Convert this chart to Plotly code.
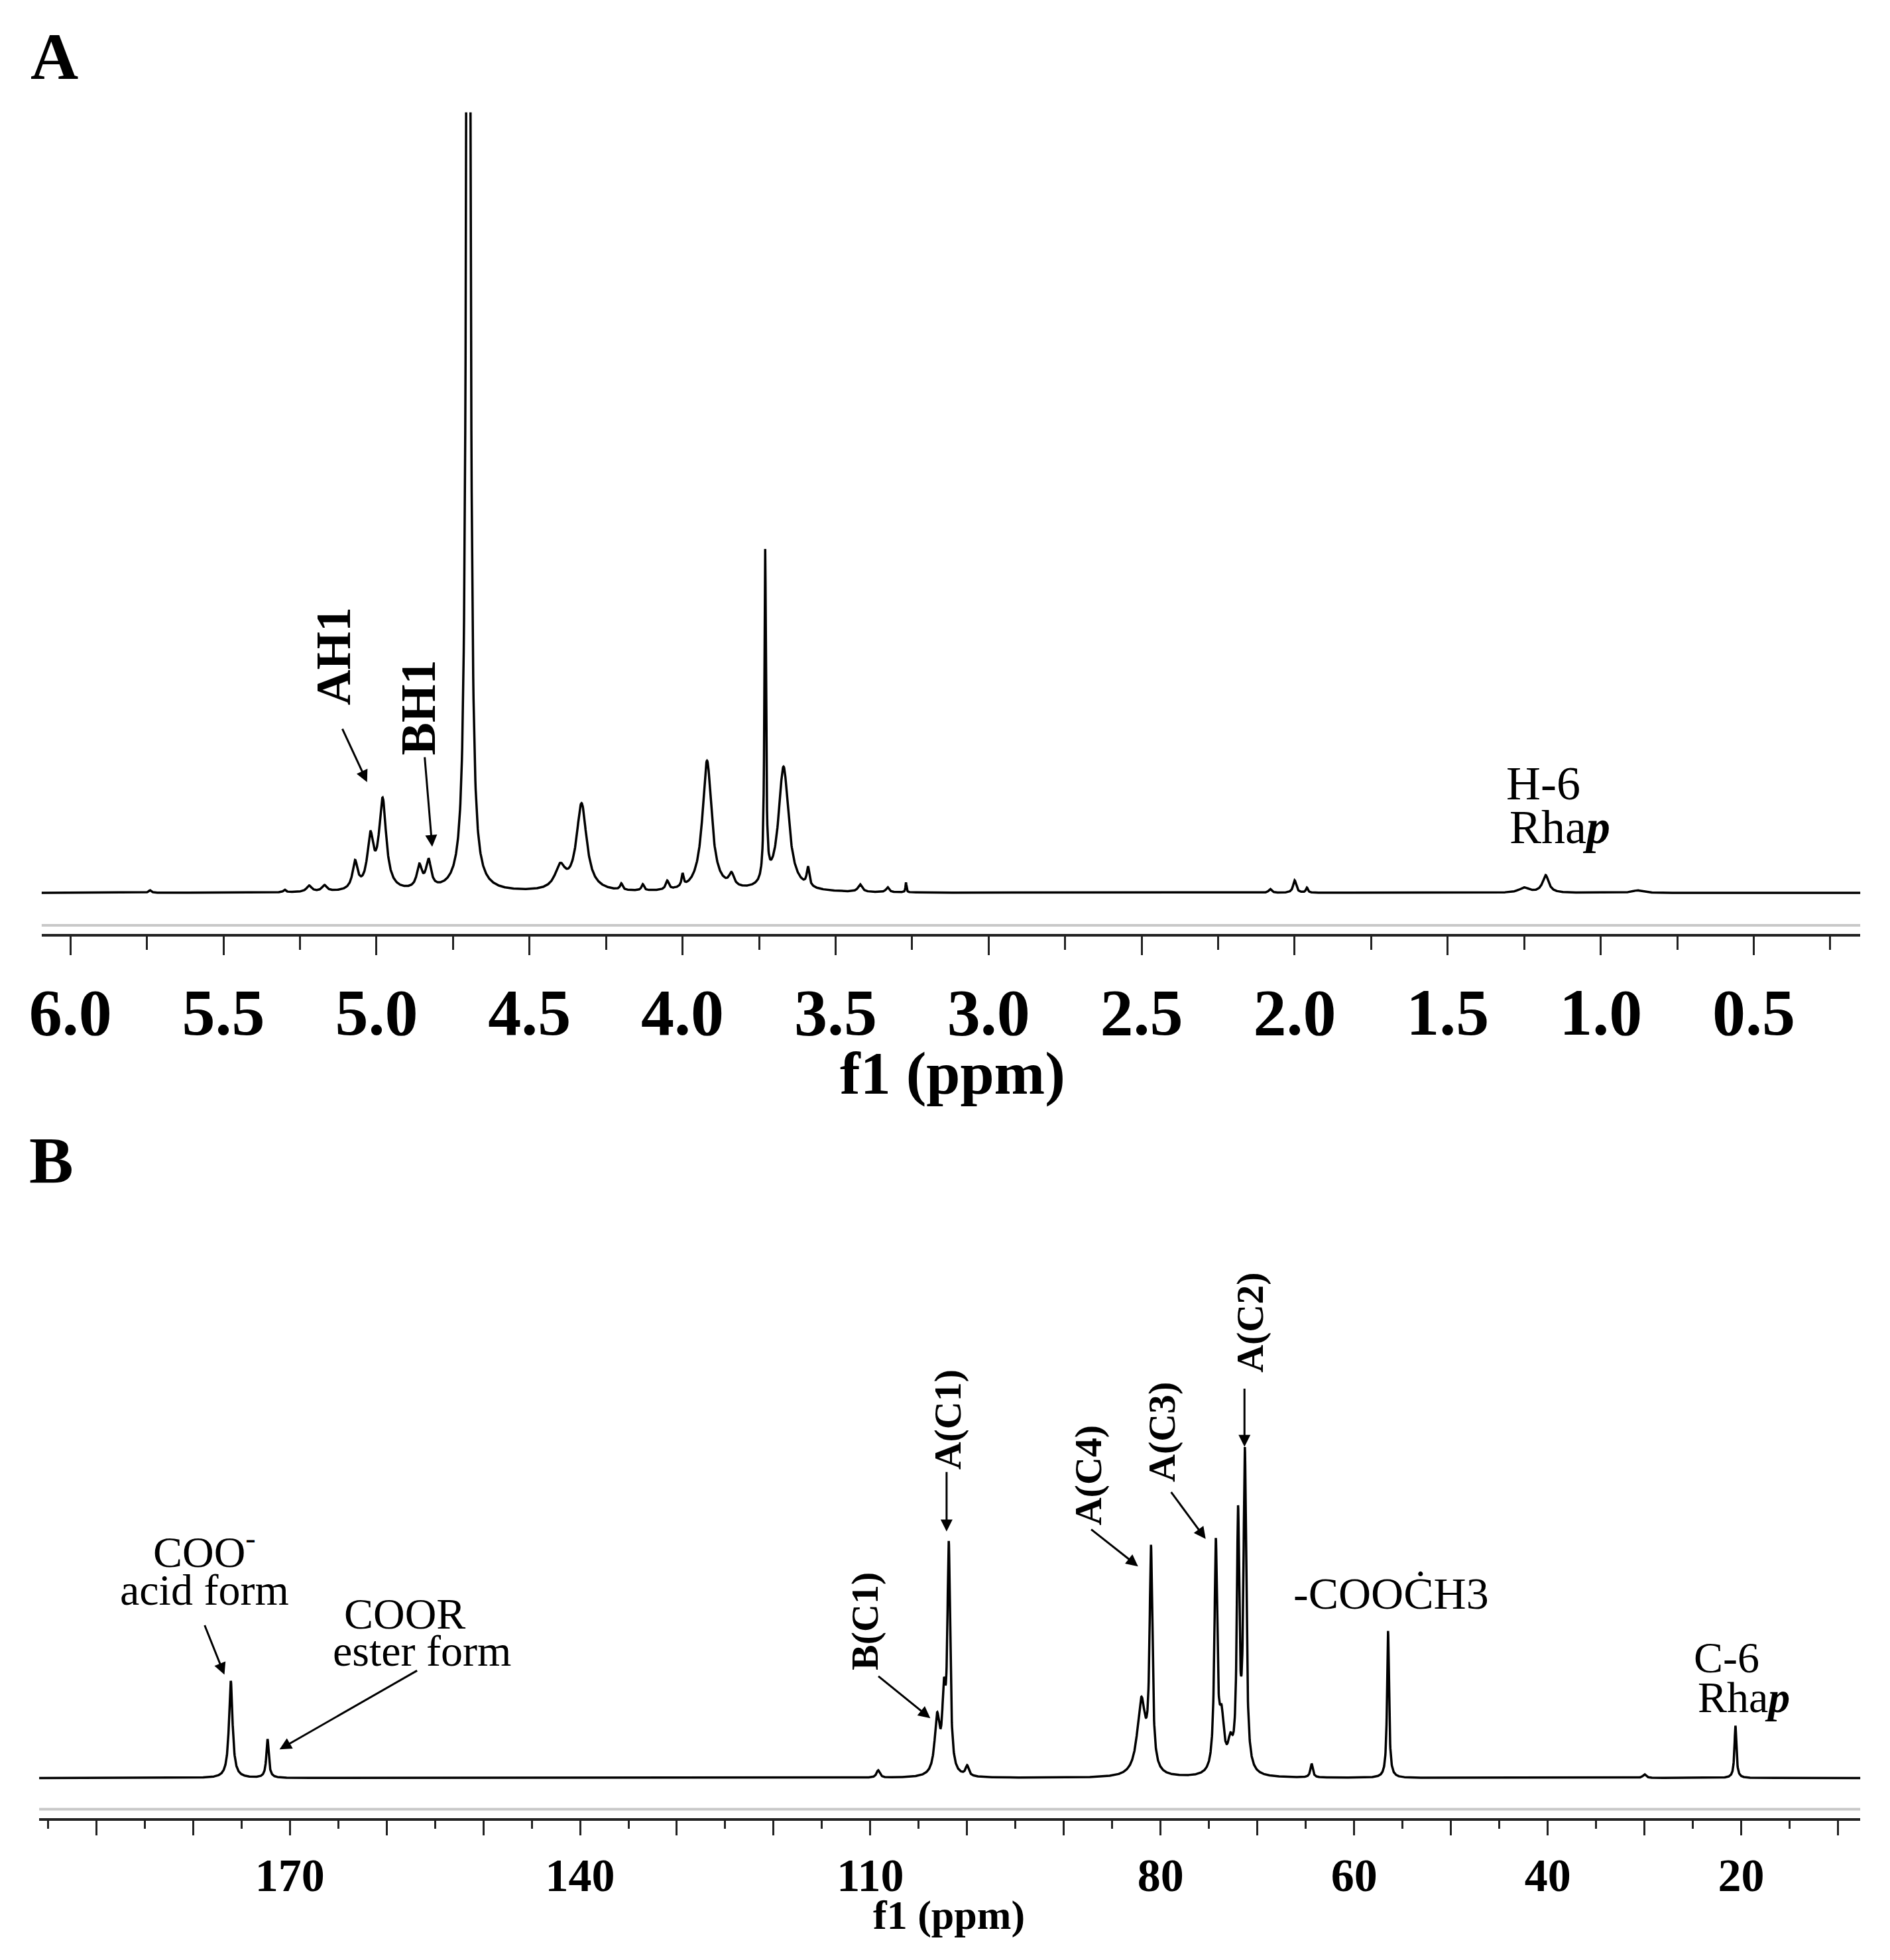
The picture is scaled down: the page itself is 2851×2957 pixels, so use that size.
import numpy as np
import plotly.graph_objects as go

# ---- data ----
# Panel A: 1H NMR peaks (ppm, height in arbitrary units, half width ppm)
h_pos = [5.74, 5.30, 5.22, 5.17, 5.07, 5.02, 4.98, 4.86, 4.83, 4.70, 4.40, 4.33, 4.20, 4.13, 4.05, 4.00, 3.92, 3.84, 3.73, 3.67, 3.59, 3.42, 3.33, 3.27, 2.08, 2.00, 1.96, 1.25, 1.18, 0.88]
h_hgt = [2, 2, 5, 5, 22, 40, 72, 18, 22, 1400, 18, 70, 5, 5, 7, 10, 105, 10, 265, 100, 15, 6, 4, 8, 3, 10, 4, 4, 14, 2]
h_wid = [0.005, 0.005, 0.01, 0.01, 0.01, 0.012, 0.014, 0.01, 0.01, 0.006, 0.02, 0.02, 0.005, 0.005, 0.006, 0.004, 0.018, 0.01, 0.003, 0.02, 0.005, 0.008, 0.006, 0.002, 0.006, 0.006, 0.004, 0.02, 0.012, 0.02]

# Panel B: 13C NMR peaks
c_pos = [176.1, 172.3, 109.2, 103.1, 102.4, 101.9, 100.0, 82.0, 81.0, 74.3, 73.7, 72.8, 72.0, 71.3, 64.4, 56.5, 30.0, 20.6]
c_hgt = [78, 31, 6, 45, 55, 180, 8, 60, 175, 182, 40, 20, 200, 255, 11, 118, 3, 42]
c_wid = [0.22, 0.15, 0.2, 0.3, 0.2, 0.17, 0.2, 0.5, 0.17, 0.17, 0.3, 0.3, 0.15, 0.17, 0.15, 0.12, 0.2, 0.12]

tickA_vals = [6.0, 5.5, 5.0, 4.5, 4.0, 3.5, 3.0, 2.5, 2.0, 1.5, 1.0, 0.5]
tickA_text = ["6.0", "5.5", "5.0", "4.5", "4.0", "3.5", "3.0", "2.5", "2.0", "1.5", "1.0", "0.5"]
tickB_vals = [190, 180, 170, 160, 150, 140, 130, 120, 110, 100, 90, 80, 70, 60, 50, 40, 30, 20, 10]
tickB_text = ["", "", "170", "", "", "140", "", "", "110", "", "", "80", "", "60", "", "40", "", "20", ""]


def spectrum(grid, pos, hgt, wid):
    y = np.zeros_like(grid)
    for p, h, w in zip(pos, hgt, wid):
        y += h * w**2 / ((grid - p) ** 2 + w**2)
    return y


xa = np.arange(6.1, 0.1, -0.001)
ya = spectrum(xa, h_pos, h_hgt, h_wid)
xb = np.arange(196.0, 7.0, -0.02)
yb = spectrum(xb, c_pos, c_hgt, c_wid)

W, H = 2851, 2957
S = W / 1500.0  # display -> original pixel scale


def px(x):
    return (x - 13) * S / W


def py(y):
    return 1 - ((y - 4) / 1.012) * S / H


FONT = "Liberation Serif"
fig = go.Figure()
fig.add_trace(go.Scatter(x=xa, y=ya, mode="lines", line=dict(color="black", width=3.5), xaxis="x", yaxis="y", showlegend=False))
fig.add_trace(go.Scatter(x=xb, y=yb, mode="lines", line=dict(color="black", width=3.5), xaxis="x2", yaxis="y2", showlegend=False))

axcommon = dict(showgrid=False, zeroline=False, showline=True, linecolor="#222", linewidth=4,
                ticks="outside", tickcolor="#222", tickwidth=3)
fig.update_layout(
    width=W, height=H, margin=dict(l=0, r=0, t=0, b=0),
    paper_bgcolor="white", plot_bgcolor="white",
    xaxis=dict(**axcommon, domain=[px(32), px(1485)], range=[6.094, 0.152], anchor="y",
               tickvals=tickA_vals, ticktext=["<b>%s</b>" % t for t in tickA_text], ticklen=28,
               tickfont=dict(size=100, family=FONT, color="black"),
               minor=dict(dtick=0.25, ticks="outside", ticklen=20, tickwidth=3, tickcolor="#222")),
    yaxis=dict(domain=[py(750), py(90)], range=[-33, 627], visible=False, anchor="x"),
    xaxis2=dict(**axcommon, domain=[px(30), px(1485)], range=[195.9, 7.7], anchor="y2",
                tickvals=tickB_vals, ticktext=["<b>%s</b>" % t if t else "" for t in tickB_text], ticklen=22,
                tickfont=dict(size=70, family=FONT, color="black"),
                minor=dict(dtick=5, ticks="outside", ticklen=12, tickwidth=3, tickcolor="#222")),
    yaxis2=dict(domain=[py(1460), py(1128)], range=[-32, 300], visible=False, anchor="x2"),
)

# light gray line above each axis
for yy, x0 in [(743, 32), (1453, 30)]:
    fig.add_shape(type="line", xref="paper", yref="paper", x0=px(x0), x1=px(1485), y0=py(yy), y1=py(yy),
                  line=dict(color="#c8c8c8", width=4))

anns = []


def text(x, y, t, size, rot=0, bold=False, align="center"):
    anns.append(dict(x=px(x), y=py(y), xref="paper", yref="paper", text=("<b>%s</b>" % t) if bold else t,
                     showarrow=False, textangle=rot, align=align, xanchor="center", yanchor="middle",
                     font=dict(family=FONT, size=size, color="black")))


def arrow(x0, y0, x1, y1):
    anns.append(dict(x=px(x1), y=py(y1), ax=(x0 - x1) * S, ay=(y0 - y1) * S, xref="paper", yref="paper",
                     text="", showarrow=True, arrowhead=2,
                     arrowsize=1.2, arrowwidth=3, arrowcolor="black"))


text(42, 45, "A", 100, bold=True)
text(40, 932, "B", 100, bold=True)
text(760, 862, "f1 (ppm)", 92, bold=True)
text(757, 1538, "f1 (ppm)", 62, bold=True)

text(265, 527, "AH1", 74, rot=-90, bold=True)
arrow(272, 585, 292, 628)
text(333, 568, "BH1", 74, rot=-90, bold=True)
arrow(338, 608, 344, 680)
text(1232, 629, "H-6", 72)
text(1245, 664, "Rha<b><i>p</i></b>", 72)

text(162, 1244, "COO<sup>-</sup>", 66)
text(162, 1277, "acid form", 66)
arrow(162, 1305, 178, 1345)
text(322, 1296, "COOR", 66)
text(336, 1326, "ester form", 66)
arrow(332, 1342, 222, 1405)
text(690, 1302, "B(C1)", 58, rot=-90, bold=True)
arrow(700, 1346, 742, 1380)
text(756, 1140, "A(C1)", 58, rot=-90, bold=True)
arrow(755, 1182, 755, 1230)
text(868, 1185, "A(C4)", 58, rot=-90, bold=True)
arrow(870, 1228, 908, 1258)
text(927, 1150, "A(C3)", 58, rot=-90, bold=True)
arrow(934, 1198, 962, 1236)
text(997, 1062, "A(C2)", 58, rot=-90, bold=True)
arrow(993, 1115, 993, 1162)
text(1110, 1280, "-COOĊH3", 68)
text(1378, 1331, "C-6", 66)
text(1392, 1363, "Rha<b><i>p</i></b>", 66)

fig.update_layout(annotations=anns)
fig.write_html("out.html")
